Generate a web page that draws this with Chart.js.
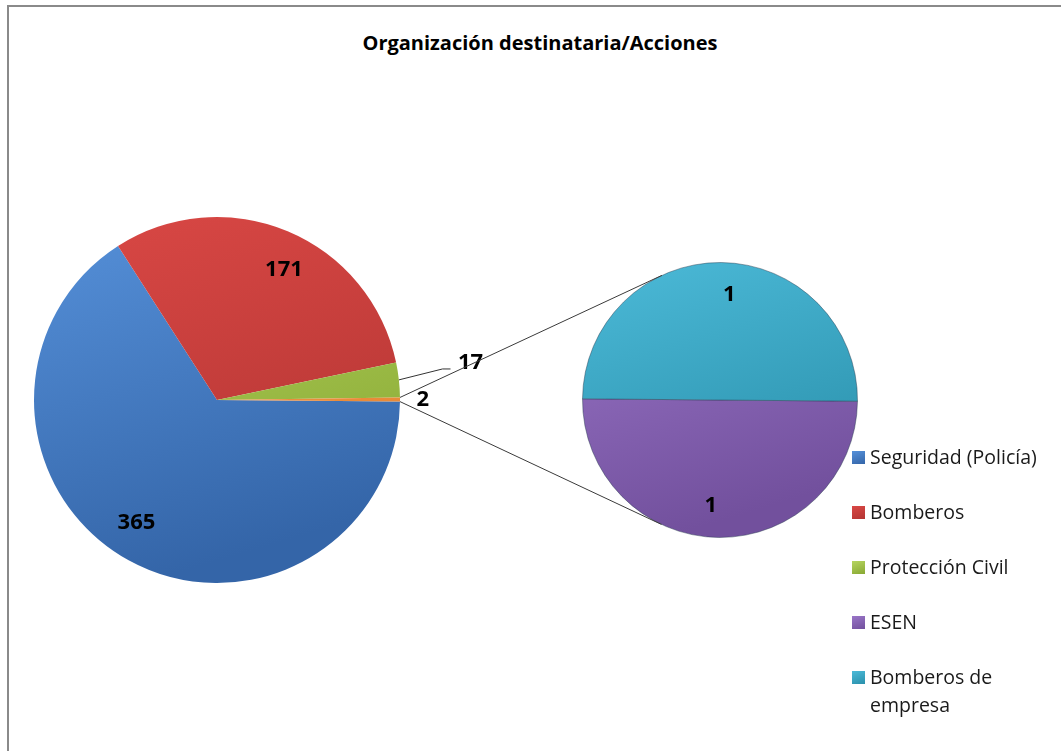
<!DOCTYPE html>
<html><head><meta charset="utf-8">
<script src="https://cdn.jsdelivr.net/npm/chart.js@4.4.1/dist/chart.umd.min.js"></script>
<style>
html,body{margin:0;padding:0;background:#fff;}
body{width:1061px;height:751px;position:relative;overflow:hidden;font-family:"Open Sans",sans-serif;}
#frame{position:absolute;left:7px;top:5px;width:1100px;height:800px;border-left:2px solid #8a8a8a;border-top:2px solid #8a8a8a;}
#title{position:absolute;left:0;width:1080px;top:30px;line-height:26px;text-align:center;font-weight:bold;font-size:20px;color:#000;}
#cMain{position:absolute;left:27px;top:210px;}
#cSub{position:absolute;left:575px;top:255px;}
#overlay{position:absolute;left:0;top:0;pointer-events:none;}
.lg{position:absolute;left:852px;font-size:19.5px;line-height:28px;color:#1a1a1a;}
.lg .sw{position:absolute;left:0;top:8px;width:13px;height:13px;}
.lg .tx{position:absolute;left:18px;top:0;width:185px;}
</style></head>
<body>
<div id="frame"></div>
<div id="title">Organización destinataria/Acciones</div>
<canvas id="cMain" width="480" height="380"></canvas>
<canvas id="cSub" width="290" height="290"></canvas>
<canvas id="overlay" width="1061" height="751"></canvas>
<div id="legend"></div>
<script>
// ---- data ----
const categories = ['Seguridad (Policía)', 'Bomberos', 'Protección Civil', 'ESEN', 'Bomberos de empresa'];
const acciones = [365, 171, 17, 1, 1];
const mainCount = 3; // first categories shown in the main pie; the rest go to the secondary pie
const otherLabel = 'Otros';

// ---- styles ----
const gradColors = [
  ['#5691DA', '#3465A8'],   // Seguridad
  ['#DA4845', '#B33533'],   // Bomberos
  ['#B6D560', '#88A833'],   // Protección Civil
  ['#9A76C8', '#72509D'],   // ESEN
  ['#4CBAD8', '#2A90AB']    // Bomberos de empresa
];
const otherColors = ['#FAA560', '#E3802A'];

const mainLabels = categories.slice(0, mainCount).concat([otherLabel]);
const mainValues = acciones.slice(0, mainCount).concat([acciones.slice(mainCount).reduce((a, b) => a + b, 0)]);
const subLabels = categories.slice(mainCount);
const subValues = acciones.slice(mainCount);
const mainGrad = gradColors.slice(0, mainCount).concat([otherColors]);
const subGrad = gradColors.slice(mainCount);

function gradFn(pairs) {
  return function (ctx) {
    const chart = ctx.chart, area = chart.chartArea;
    const p = pairs[ctx.dataIndex];
    if (!area) return p[0];
    const g = chart.ctx.createLinearGradient(area.left, area.top, area.left + area.width * 0.3, area.bottom);
    g.addColorStop(0, p[0]);
    g.addColorStop(1, p[1]);
    return g;
  };
}

const sliceLabels = {
  id: 'sliceLabels',
  afterDatasetsDraw(chart, args, opts) {
    const ctx = chart.ctx;
    const meta = chart.getDatasetMeta(0);
    const values = chart.data.datasets[0].data;
    ctx.save();
    ctx.font = 'bold 22px "Open Sans", sans-serif';
    ctx.fillStyle = '#000';
    ctx.textAlign = 'center';
    ctx.textBaseline = 'middle';
    meta.data.forEach((arc, i) => {
      const pl = opts.placements[i];
      const p = arc.getProps(['x', 'y', 'startAngle', 'endAngle', 'outerRadius'], true);
      const mid = (p.startAngle + p.endAngle) / 2 + pl.da * Math.PI / 180;
      const lx = p.x + Math.cos(mid) * p.outerRadius * pl.f;
      const ly = p.y + Math.sin(mid) * p.outerRadius * pl.f;
      if (pl.leader) {
        const m0 = (p.startAngle + p.endAngle) / 2;
        ctx.strokeStyle = '#333';
        ctx.lineWidth = 1;
        ctx.beginPath();
        ctx.moveTo(p.x + Math.cos(m0) * p.outerRadius, p.y + Math.sin(m0) * p.outerRadius);
        ctx.lineTo(lx - 28, ly + 6);
        ctx.lineTo(lx - 20, ly + 6);
        ctx.stroke();
      }
      ctx.fillText(String(values[i]), lx, ly);
    });
    ctx.restore();
  }
};

const mainChart = new Chart(document.getElementById('cMain'), {
  type: 'pie',
  data: { labels: mainLabels, datasets: [{ data: mainValues, backgroundColor: gradFn(mainGrad), borderWidth: 0 }] },
  options: {
    responsive: false, animation: false, rotation: 90.5,
    layout: { padding: { left: 7, top: 7, bottom: 7, right: 107 } },
    plugins: {
      legend: { display: false }, tooltip: { enabled: false },
      sliceLabels: { placements: [ { f: 0.8, da: 4.5 }, { f: 0.8, da: 4.5 }, { f: 1.4, da: -2, leader: true }, { f: 1.125, da: 0 } ] }
    }
  },
  plugins: [sliceLabels]
});

const subChart = new Chart(document.getElementById('cSub'), {
  type: 'pie',
  data: { labels: subLabels, datasets: [{ data: subValues, backgroundColor: gradFn(subGrad), borderWidth: 1, borderColor: 'rgba(40,60,80,0.45)' }] },
  options: {
    responsive: false, animation: false, rotation: 90.5,
    layout: { padding: 7 },
    plugins: {
      legend: { display: false }, tooltip: { enabled: false },
      sliceLabels: { placements: [ { f: 0.77, da: 4.5 }, { f: 0.77, da: 4.5 } ] }
    }
  },
  plugins: [sliceLabels]
});

// connector lines (tangents from the "other" slice edges to the secondary pie)
(function () {
  const ov = document.getElementById('overlay').getContext('2d');
  const mc = document.getElementById('cMain'), sc = document.getElementById('cSub');
  const mo = { x: mc.offsetLeft, y: mc.offsetTop }, so = { x: sc.offsetLeft, y: sc.offsetTop };
  const oArc = mainChart.getDatasetMeta(0).data[mainValues.length - 1].getProps(['x', 'y', 'startAngle', 'endAngle', 'outerRadius'], true);
  const sArc = subChart.getDatasetMeta(0).data[0].getProps(['x', 'y', 'outerRadius'], true);
  const C = { x: sArc.x + so.x, y: sArc.y + so.y }, r = sArc.outerRadius;
  function edge(a) { return { x: oArc.x + mo.x + Math.cos(a) * oArc.outerRadius, y: oArc.y + mo.y + Math.sin(a) * oArc.outerRadius }; }
  function tangent(P, sign) {
    const dx = P.x - C.x, dy = P.y - C.y, d = Math.hypot(dx, dy);
    const base = Math.atan2(dy, dx), alpha = Math.acos(r / d);
    const a = base + sign * alpha;
    return { x: C.x + Math.cos(a) * r, y: C.y + Math.sin(a) * r };
  }
  const P1 = edge(oArc.startAngle), P2 = edge(oArc.endAngle);
  const T1 = tangent(P1, 1), T2 = tangent(P2, -1);
  ov.strokeStyle = '#3a3a3a';
  ov.lineWidth = 1;
  ov.beginPath();
  ov.moveTo(P1.x, P1.y); ov.lineTo(T1.x, T1.y);
  ov.moveTo(P2.x, P2.y); ov.lineTo(T2.x, T2.y);
  ov.stroke();
})();

// legend
(function () {
  const lg = document.getElementById('legend');
  categories.forEach((c, i) => {
    const d = document.createElement('div');
    d.className = 'lg';
    d.style.top = (443 + i * 55) + 'px';
    const sw = document.createElement('span');
    sw.className = 'sw';
    sw.style.background = 'linear-gradient(160deg,' + gradColors[i][0] + ',' + gradColors[i][1] + ')';
    const tx = document.createElement('span');
    tx.className = 'tx';
    tx.textContent = c;
    d.appendChild(sw); d.appendChild(tx);
    lg.appendChild(d);
  });
})();
</script>
</body></html>
